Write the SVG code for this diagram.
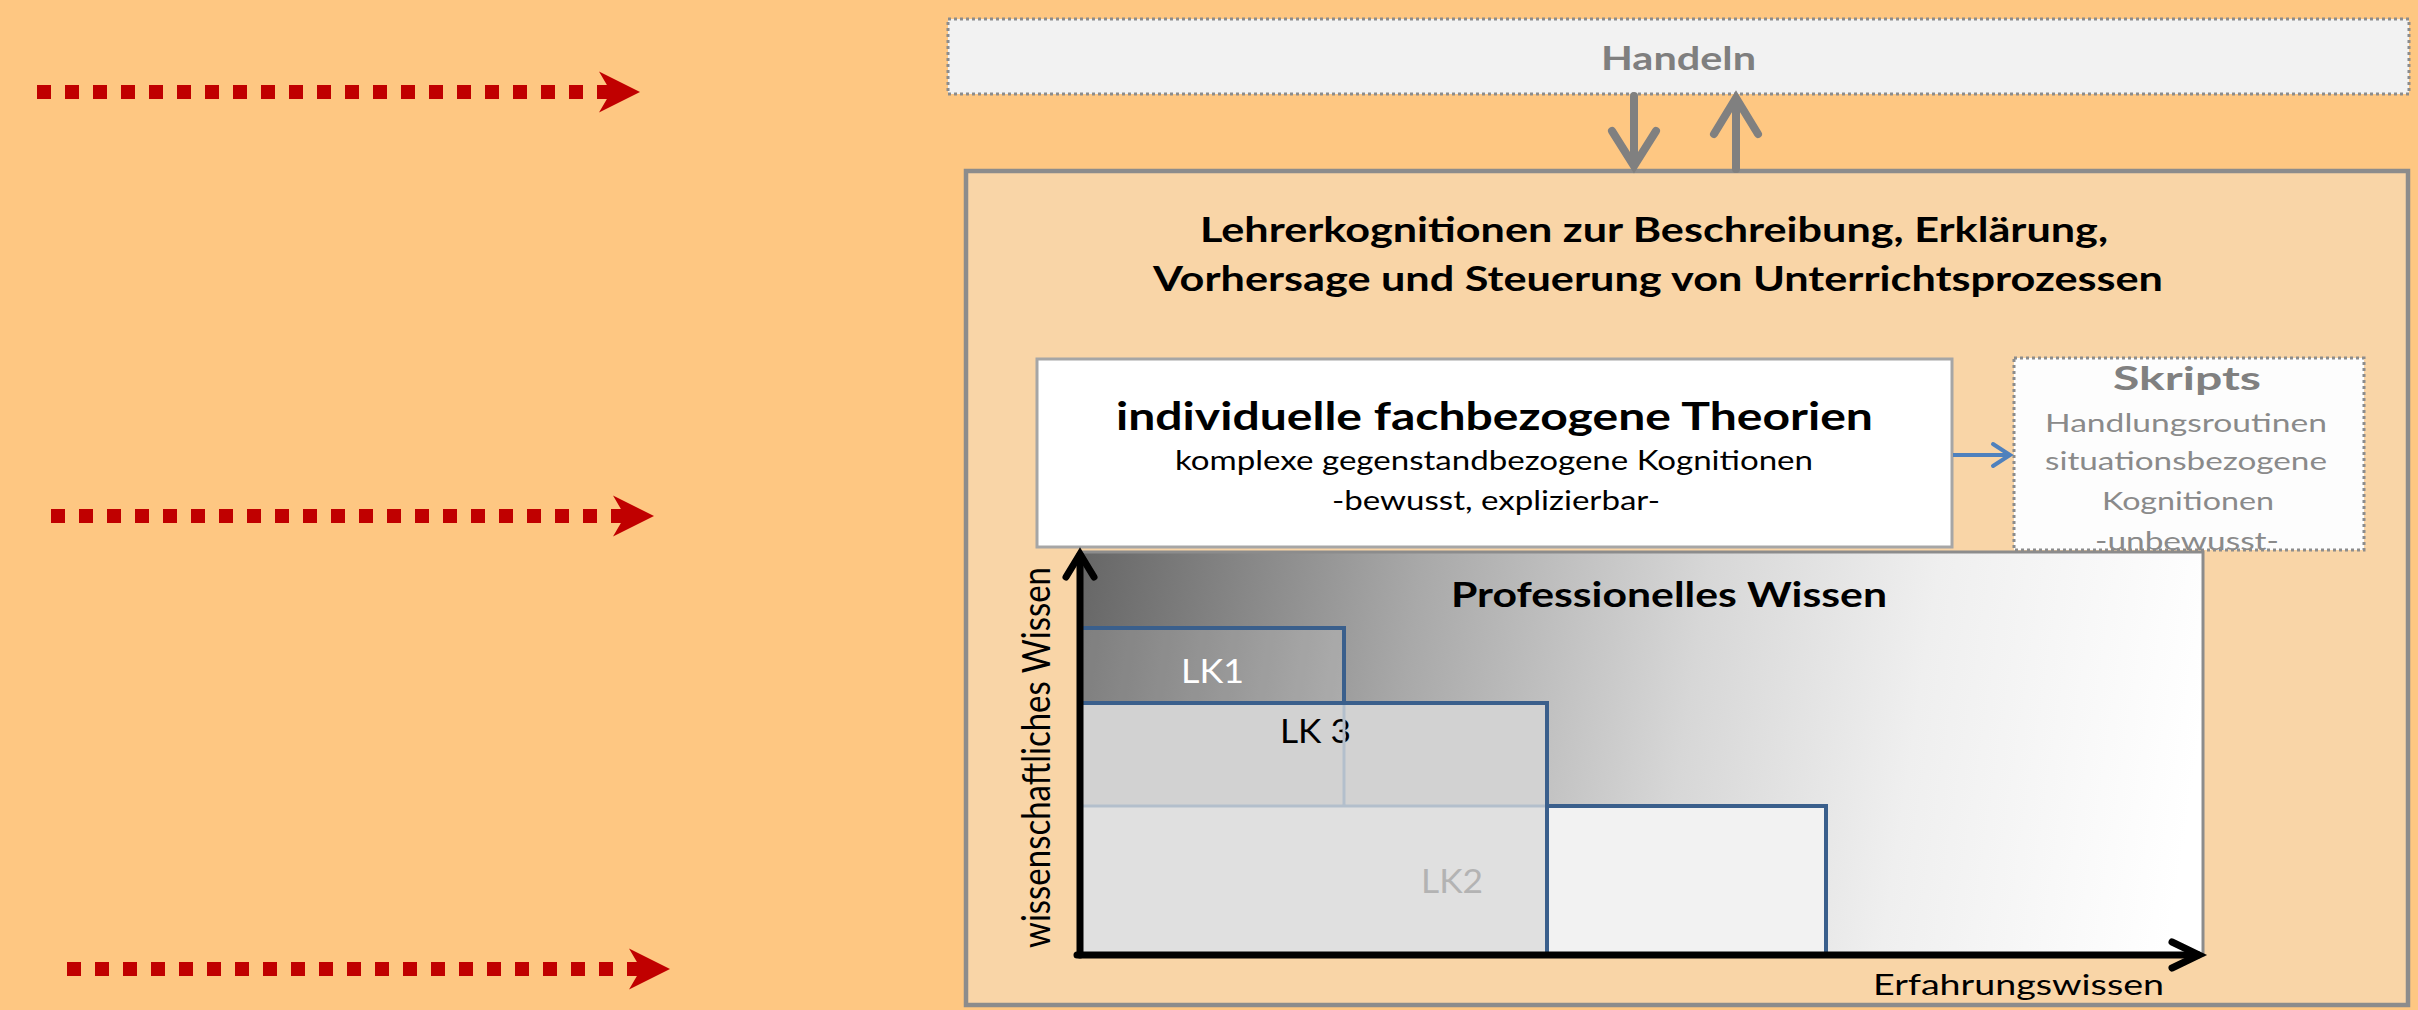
<svg xmlns="http://www.w3.org/2000/svg" width="2418" height="1010" viewBox="0 0 2418 1010">
  <style>
    .txt { font-family: Lato, "Open Sans", "Liberation Sans", sans-serif; }
    .b { font-weight: 700; }
    .dotted { stroke: #8c8c8c; stroke-width: 3; stroke-dasharray: 3 3; }
    .gray-arrow { fill: none; stroke: #808080; stroke-width: 8; stroke-linecap: round; stroke-linejoin: miter; }
    .red-dash { stroke: #c00000; stroke-width: 14; stroke-dasharray: 14 14; fill: none; }
    .lk-edge { fill: none; stroke: #3a5f8c; stroke-width: 4; }
    .lk-hidden { fill: none; stroke: #b3bfcc; stroke-width: 3; }
    .axis { fill: none; stroke: #000; stroke-width: 7; stroke-linecap: round; }
  </style>
  <defs>
    <marker id="redHead" markerUnits="userSpaceOnUse" viewBox="0 -21 41 42" markerWidth="41" markerHeight="42" refX="12" refY="0" orient="auto" overflow="visible">
      <path d="M0,-20.5 L41,0 L0,20.5 L12,0 Z" fill="#c00000"/>
    </marker>
    <linearGradient id="wissenGrad" gradientUnits="userSpaceOnUse" x1="1080" y1="552" x2="2203" y2="720">
      <stop offset="0" stop-color="#666666"/>
      <stop offset="0.3" stop-color="#a9a9a9"/>
      <stop offset="0.55" stop-color="#d7d7d7"/>
      <stop offset="0.75" stop-color="#efefef"/>
      <stop offset="1" stop-color="#ffffff"/>
    </linearGradient>
  </defs>

  <!-- page background -->
  <rect x="0" y="0" width="2418" height="1010" fill="#fec782"/>

  <!-- red pointer arrows on the left -->
  <g id="pointer-arrows">
    <line class="red-dash" x1="37" y1="92" x2="611" y2="92" marker-end="url(#redHead)"/>
    <line class="red-dash" x1="51" y1="516" x2="625" y2="516" marker-end="url(#redHead)"/>
    <line class="red-dash" x1="67" y1="969" x2="641" y2="969" marker-end="url(#redHead)"/>
  </g>

  <!-- Handeln -->
  <g id="handeln">
    <rect class="dotted" x="948" y="19" width="1461" height="75" fill="#f2f2f2"/>
    <text class="txt b" x="1601" y="70" font-size="33" fill="#7f7f7f" textLength="155" lengthAdjust="spacingAndGlyphs">Handeln</text>
  </g>

  <!-- outer frame: teacher cognitions -->
  <g id="lehrerkognitionen">
    <rect x="966" y="171" width="1442" height="834" fill="#f9d5a7" stroke="#8c8c8c" stroke-width="4.5"/>
    <text class="txt b" x="1200" y="242" font-size="34" fill="#000" textLength="908" lengthAdjust="spacingAndGlyphs">Lehrerkognitionen zur Beschreibung, Erklärung,</text>
    <text class="txt b" x="1153" y="291" font-size="34" fill="#000" textLength="1010" lengthAdjust="spacingAndGlyphs">Vorhersage und Steuerung von Unterrichtsprozessen</text>
  </g>

  <!-- subject-related theories -->
  <g id="theorien">
    <rect x="1037" y="359" width="915" height="188" fill="#ffffff" stroke="#a6a6a6" stroke-width="3"/>
    <text class="txt b" x="1116" y="430" font-size="39" fill="#000" textLength="757" lengthAdjust="spacingAndGlyphs">individuelle fachbezogene Theorien</text>
    <text class="txt" x="1175" y="470" font-size="26" fill="#000" textLength="638" lengthAdjust="spacingAndGlyphs">komplexe gegenstandbezogene Kognitionen</text>
    <text class="txt" x="1332" y="510" font-size="26" fill="#000" textLength="328" lengthAdjust="spacingAndGlyphs">-bewusst, explizierbar-</text>
  </g>

  <!-- scripts -->
  <g id="skripts">
    <rect x="2014" y="358" width="350" height="192" fill="#fdfdfd"/>
    <text class="txt b" x="2113" y="390" font-size="33" fill="#808080" textLength="148" lengthAdjust="spacingAndGlyphs">Skripts</text>
    <text class="txt" x="2045" y="432" font-size="25" fill="#8a8a8a" textLength="282" lengthAdjust="spacingAndGlyphs">Handlungsroutinen</text>
    <text class="txt" x="2045" y="470" font-size="25" fill="#8a8a8a" textLength="282" lengthAdjust="spacingAndGlyphs">situationsbezogene</text>
    <text class="txt" x="2102" y="510" font-size="25" fill="#8a8a8a" textLength="172" lengthAdjust="spacingAndGlyphs">Kognitionen</text>
    <text class="txt" x="2095" y="550" font-size="25" fill="#8a8a8a" textLength="184" lengthAdjust="spacingAndGlyphs">-unbewusst-</text>
    <rect class="dotted" x="2014" y="358" width="350" height="192" fill="none"/>
  </g>

  <!-- professional knowledge chart -->
  <g id="wissen">
    <rect x="1080" y="552" width="1123" height="403" fill="url(#wissenGrad)" stroke="#8c8c8c" stroke-width="3"/>
    <text class="txt b" x="1451" y="607" font-size="34" fill="#000" textLength="436" lengthAdjust="spacingAndGlyphs">Professionelles Wissen</text>
  </g>

  <g id="lk1">
    <rect x="1080" y="628" width="264" height="75" fill="#ffffff" fill-opacity="0.15"/>
    <text class="txt" x="1181" y="683" font-size="33" fill="#ffffff" textLength="63" lengthAdjust="spacingAndGlyphs">LK1</text>
  </g>
  <g id="lk3">
    <rect x="1080" y="703" width="467" height="103" fill="#d2d2d2"/>
    <text class="txt" x="1280" y="743" font-size="33" fill="#000" textLength="71" lengthAdjust="spacingAndGlyphs">LK 3</text>
  </g>
  <g id="lk2">
    <rect x="1080" y="806" width="467" height="149" fill="#e0e0e0"/>
    <rect x="1547" y="806" width="279" height="149" fill="#f2f2f2"/>
    <text class="txt" x="1421" y="893" font-size="33" fill="#b3b3b3" textLength="62" lengthAdjust="spacingAndGlyphs">LK2</text>
  </g>
  <g id="lk-edges">
    <path class="lk-hidden" d="M1344,703 V806 M1080,806 H1547"/>
    <path class="lk-edge" d="M1080,628 H1344 V703"/>
    <path class="lk-edge" d="M1080,703 H1547 V955"/>
    <path class="lk-edge" d="M1547,806 H1826 V955"/>
  </g>

  <!-- axes -->
  <g id="axes">
    <path class="axis" d="M1080,955 V555"/>
    <path class="axis" d="M1066,577 L1080,554 L1094,577"/>
    <path class="axis" d="M1077,955 H2198"/>
    <path class="axis" d="M2172,942 L2199,955 L2172,968"/>
    <text class="txt" x="1873" y="995" font-size="29" fill="#000" textLength="291" lengthAdjust="spacingAndGlyphs">Erfahrungswissen</text>
    <text class="txt" transform="translate(1050,948) rotate(-90)" x="0" y="0" font-size="38" fill="#000" textLength="381" lengthAdjust="spacingAndGlyphs">wissenschaftliches Wissen</text>
  </g>

  <!-- connectors -->
  <g id="connectors">
    <path class="gray-arrow" d="M1634,96 V164"/>
    <path class="gray-arrow" d="M1612,131 L1634,166 L1656,131"/>
    <path class="gray-arrow" d="M1736,169 V100"/>
    <path class="gray-arrow" d="M1714,134 L1736,98 L1758,134"/>
    <path d="M1953,455 H2008" fill="none" stroke="#4f81bd" stroke-width="4"/>
    <path d="M1993,444 L2010,455 L1993,466" fill="none" stroke="#4f81bd" stroke-width="4" stroke-linecap="round"/>
  </g>
</svg>
